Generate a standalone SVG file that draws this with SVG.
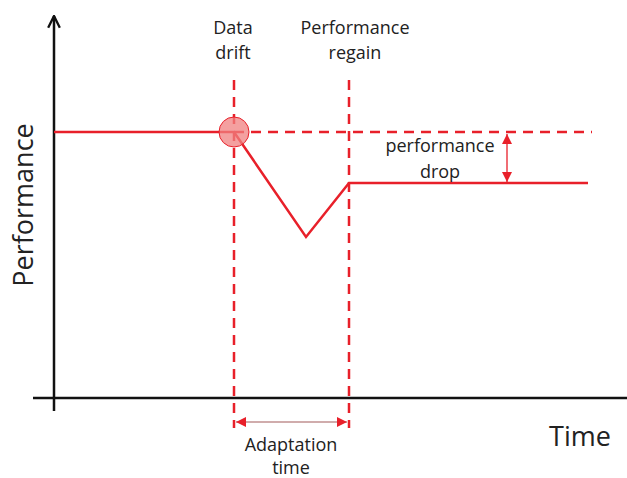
<svg xmlns="http://www.w3.org/2000/svg" width="627" height="478" viewBox="0 0 627 478">
<defs>
<style>
.t{font-family:"Open Sans","Liberation Sans",sans-serif;fill:#222;text-anchor:middle}
.s{font-size:18px}
.b{font-size:27px}
.red{stroke:#e8202a;stroke-width:2.5;fill:none}
.dash{stroke:#e8202a;stroke-width:2.5;stroke-dasharray:10 7;fill:none}
</style>
<marker id="ah" viewBox="0 0 10 10" refX="10" refY="5" markerWidth="10" markerHeight="10" markerUnits="userSpaceOnUse" orient="auto-start-reverse"><path d="M0,0 L10,5 L0,10 Z" fill="#e8202a"/></marker>
<marker id="ax" viewBox="0 0 12 12" refX="11" refY="6" markerWidth="14" markerHeight="14" markerUnits="userSpaceOnUse" orient="auto"><path d="M1,1 L11,6 L1,11" fill="none" stroke="#111" stroke-width="2"/></marker>
</defs>
<rect width="627" height="478" fill="#fff"/>
<g id="axes">
<line x1="54" y1="411" x2="54" y2="16" stroke="#111" stroke-width="2.5" marker-end="url(#ax)"/>
<line x1="33" y1="398" x2="640" y2="398" stroke="#111" stroke-width="2.5"/>
</g>
<g id="connectors">
<polyline class="red" points="54,132 234,132 306,237 349,183 588,183"/>
<line class="dash" x1="234" y1="80" x2="234" y2="428"/>
<line class="dash" x1="349" y1="80" x2="349" y2="428"/>
<line class="dash" x1="234" y1="132" x2="592" y2="132"/>
<line x1="507" y1="134" x2="507" y2="182" stroke="#e8202a" stroke-width="1.3" marker-start="url(#ah)" marker-end="url(#ah)"/>
<line x1="236" y1="422" x2="347" y2="422" stroke="#c09090" stroke-width="1.5" marker-start="url(#ah)" marker-end="url(#ah)"/>
</g>
<g id="drift-point"><circle cx="234" cy="132" r="15" fill="#f08080" fill-opacity="0.75" stroke="#e8202a" stroke-width="1"/></g>
<g id="labels">
<text class="t s" x="233" y="34">Data</text>
<text class="t s" x="233" y="59">drift</text>
<text class="t s" x="355" y="34">Performance</text>
<text class="t s" x="355" y="59">regain</text>
<text class="t s" x="440" y="152">performance</text>
<text class="t s" x="440" y="178">drop</text>
<text class="t s" x="291" y="451">Adaptation</text>
<text class="t s" x="291" y="474">time</text>
<text class="t b" x="580" y="446">Time</text>
<text class="t b" transform="translate(33,205) rotate(-90)">Performance</text>
</g>
</svg>
